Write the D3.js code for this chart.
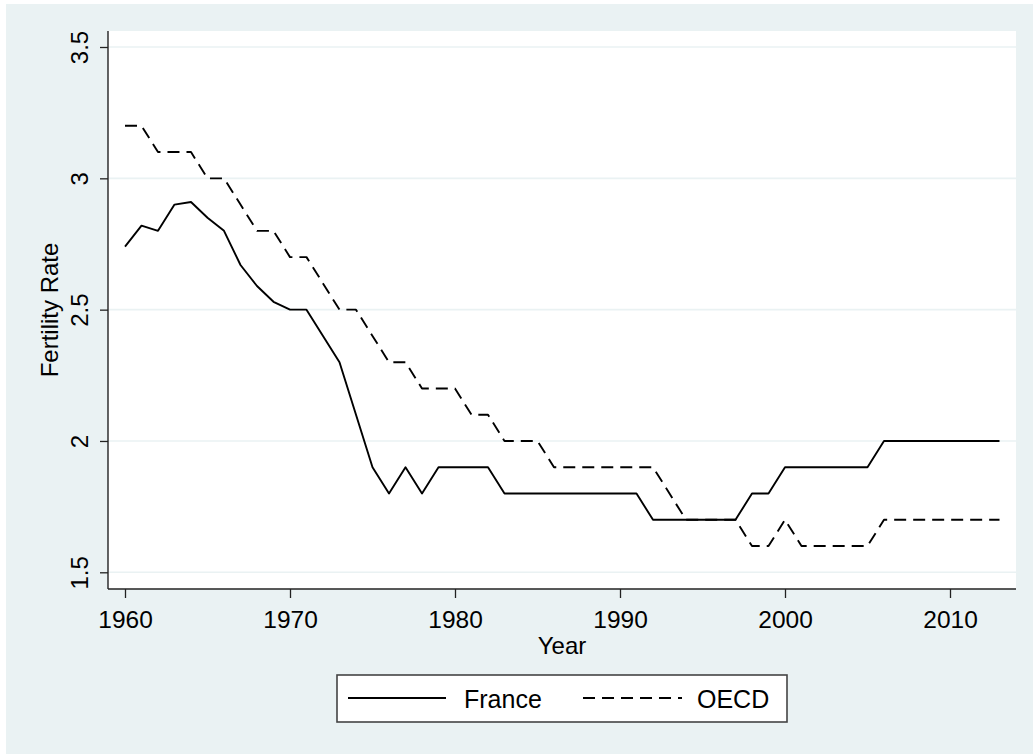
<!DOCTYPE html>
<html>
<head>
<meta charset="utf-8">
<script src="https://cdn.jsdelivr.net/npm/d3@7"></script>
<style>
  html, body { margin: 0; padding: 0; background: #ffffff; }
  svg { display: block; font-family: "Liberation Sans", Arial, sans-serif; }
</style>
</head>
<body>
<svg id="chart" width="1033" height="754"></svg>
<script>
const years = [1960,1961,1962,1963,1964,1965,1966,1967,1968,1969,
               1970,1971,1972,1973,1974,1975,1976,1977,1978,1979,
               1980,1981,1982,1983,1984,1985,1986,1987,1988,1989,
               1990,1991,1992,1993,1994,1995,1996,1997,1998,1999,
               2000,2001,2002,2003,2004,2005,2006,2007,2008,2009,
               2010,2011,2012,2013];
const france = [2.74,2.82,2.80,2.90,2.91,2.85,2.80,2.67,2.59,2.53,
                2.50,2.50,2.40,2.30,2.10,1.90,1.80,1.90,1.80,1.90,
                1.90,1.90,1.90,1.80,1.80,1.80,1.80,1.80,1.80,1.80,
                1.80,1.80,1.70,1.70,1.70,1.70,1.70,1.70,1.80,1.80,
                1.90,1.90,1.90,1.90,1.90,1.90,2.00,2.00,2.00,2.00,
                2.00,2.00,2.00,2.00];
const oecd = [3.2,3.2,3.1,3.1,3.1,3.0,3.0,2.9,2.8,2.8,
              2.7,2.7,2.6,2.5,2.5,2.4,2.3,2.3,2.2,2.2,
              2.2,2.1,2.1,2.0,2.0,2.0,1.9,1.9,1.9,1.9,
              1.9,1.9,1.9,1.8,1.7,1.7,1.7,1.7,1.6,1.6,
              1.7,1.6,1.6,1.6,1.6,1.6,1.7,1.7,1.7,1.7,
              1.7,1.7,1.7,1.7];
const xTicks = [1960,1970,1980,1990,2000,2010];
const yTicks = [1.5,2,2.5,3,3.5];
const seriesNames = ["France","OECD"];

const svg = d3.select("#chart");
const BG = "#eaf2f3";
const plot = {left:108, right:1016, top:31, bottom:589};

// outer background
svg.append("rect").attr("x",6).attr("y",4).attr("width",1027).attr("height",750).attr("fill",BG);
// plot region
svg.append("rect").attr("x",plot.left).attr("y",plot.top)
   .attr("width",plot.right-plot.left).attr("height",plot.bottom-plot.top).attr("fill","#ffffff");

const x = d3.scaleLinear().domain([1960,2010]).range([125,950]);
const y = d3.scaleLinear().domain([1.5,3.5]).range([572.3,47]);

// gridlines
svg.append("g").selectAll("line").data(yTicks).join("line")
  .attr("x1",plot.left).attr("x2",plot.right)
  .attr("y1",d=>y(d)).attr("y2",d=>y(d))
  .attr("stroke",BG).attr("stroke-width",1.6);

// y axis
const yAxis = d3.axisLeft(y).tickValues(yTicks).tickSize(8).tickPadding(12)
  .tickFormat(d=>String(d));
const gy = svg.append("g").attr("transform",`translate(${plot.left},0)`).call(yAxis);
gy.select(".domain").remove();
gy.selectAll(".tick line").attr("stroke","#222").attr("stroke-width",1.3);
gy.selectAll(".tick text").attr("font-size",24).attr("fill","#000")
  .attr("text-anchor","middle").attr("x",null).attr("dy",null)
  .attr("transform","translate(-20,0) rotate(-90)");
svg.append("line").attr("x1",plot.left).attr("x2",plot.left)
  .attr("y1",plot.top).attr("y2",plot.bottom).attr("stroke","#222").attr("stroke-width",1.4);

// x axis
const xAxis = d3.axisBottom(x).tickValues(xTicks).tickSize(9).tickPadding(6)
  .tickFormat(d3.format("d"));
const gx = svg.append("g").attr("transform",`translate(0,${plot.bottom})`).call(xAxis);
gx.select(".domain").remove();
gx.selectAll(".tick line").attr("stroke","#222").attr("stroke-width",1.3);
gx.selectAll(".tick text").attr("font-size",24.5).attr("fill","#000").attr("dy",null).attr("y",39);
svg.append("line").attr("x1",plot.left).attr("x2",plot.right)
  .attr("y1",plot.bottom).attr("y2",plot.bottom).attr("stroke","#222").attr("stroke-width",1.4);

// axis titles
svg.append("text").attr("x",(plot.left+plot.right)/2).attr("y",654)
  .attr("text-anchor","middle").attr("font-size",24).text("Year");
svg.append("text").attr("transform",`translate(58,${(plot.top+plot.bottom)/2}) rotate(-90)`)
  .attr("text-anchor","middle").attr("font-size",24).text("Fertility Rate");

// lines
const line = d3.line().x((d,i)=>x(years[i])).y(d=>y(d));
svg.append("path").datum(france).attr("d",line)
  .attr("fill","none").attr("stroke","#000").attr("stroke-width",1.9).attr("stroke-linejoin","round");
svg.append("path").datum(oecd).attr("d",line)
  .attr("fill","none").attr("stroke","#000").attr("stroke-width",1.9)
  .attr("stroke-dasharray","12,7").attr("stroke-linejoin","round");

// legend
const lg = svg.append("g");
lg.append("rect").attr("x",337).attr("y",675).attr("width",450).attr("height",47)
  .attr("fill","#fff").attr("stroke","#444").attr("stroke-width",1.6);
lg.append("line").attr("x1",348).attr("x2",446).attr("y1",698).attr("y2",698)
  .attr("stroke","#000").attr("stroke-width",1.9);
lg.append("text").attr("x",464).attr("y",708).attr("font-size",25).text(seriesNames[0]);
lg.append("line").attr("x1",583).attr("x2",682).attr("y1",698).attr("y2",698)
  .attr("stroke","#000").attr("stroke-width",1.9).attr("stroke-dasharray","12,7");
lg.append("text").attr("x",697).attr("y",708).attr("font-size",25).text(seriesNames[1]);
</script>
</body>
</html>
